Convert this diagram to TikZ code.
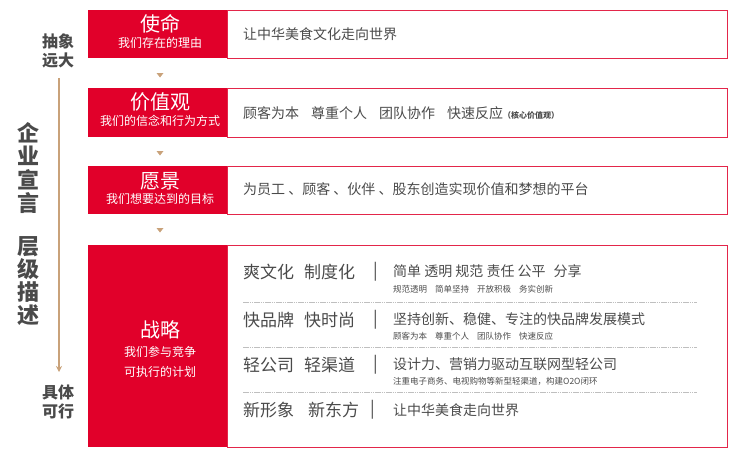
\documentclass[tikz,border=0pt]{standalone}
\usepackage{fontspec}
\setmainfont{Noto Sans CJK SC}
\usetikzlibrary{arrows.meta}
\definecolor{brandred}{HTML}{E1002A}
\definecolor{framered}{HTML}{E3264A}
\definecolor{linetan}{HTML}{C9A27A}
\definecolor{textgray}{HTML}{4A4A4A}
\begin{document}
\begin{tikzpicture}[x=1pt,y=-1pt,
    redbox/.style={fill=brandred,draw=none,inner sep=0pt,anchor=north west},
    framebox/.style={draw=framered,line width=1.2pt,inner sep=0pt,anchor=north west},
    titletext/.style={text=white,font=\fontsize{20}{24}\selectfont,inner sep=0pt},
    subtext/.style={text=white,font=\fontsize{12}{14}\selectfont,inner sep=0pt},
    bodytext/.style={text=textgray,font=\fontsize{14}{16}\selectfont,anchor=west,inner sep=0pt},
    keytext/.style={text=textgray,font=\fontsize{17}{19}\selectfont,anchor=west,inner sep=0pt},
    smalltext/.style={text=textgray,font=\fontsize{8.5}{10}\selectfont,anchor=west,inner sep=0pt},
    sidetext/.style={text=textgray,font=\bfseries\fontsize{16}{19}\selectfont,align=center,inner sep=0pt},
    bigside/.style={text=textgray,font=\bfseries\fontsize{22}{23.3}\selectfont,align=center,inner sep=0pt},
    sepline/.style={draw=gray!50,line width=0.6pt,dash pattern=on 1.5pt off 0.7pt}]
  \useasboundingbox (0,0) rectangle (750,466);
  % 左の縦の矢印
  \coordinate (axtop) at (59,78);
  \coordinate (axbot) at (59,372);
  \draw[linetan,line width=2pt,-{Stealth[length=6pt,width=6pt]}] (axtop) -- (axbot);
  % 左のラベル
  \node[sidetext] (abstract) at (58,51) {抽象\\远大};
  \node[sidetext] (concrete) at (58,402) {具体\\可行};
  \node[bigside] (manifesto) at (28,168) {企\\业\\宣\\言};
  \node[bigside] (levels) at (28,281) {层\\级\\描\\述};
  % 使命
  \node[framebox,minimum width=500pt,minimum height=48pt] (mission-frame) at (227,10) {};
  \node[redbox,minimum width=139pt,minimum height=48pt] (mission) at (88,10) {};
  \node[titletext] (mission-title) at (160,24) {使命};
  \node[subtext] (mission-sub) at (160,43) {我们存在的理由};
  \node[bodytext] (mission-text) at (243,34) {让中华美食文化走向世界};
  % 价值观
  \node[framebox,minimum width=500pt,minimum height=49pt] (values-frame) at (227,88) {};
  \node[redbox,minimum width=139pt,minimum height=49pt] (values) at (88,88) {};
  \node[titletext] (values-title) at (160,102) {价值观};
  \node[subtext] (values-sub) at (160,121) {我们的信念和行为方式};
  \node[bodytext] (values-text) at (243,113) {顾客为本\hspace{12pt}尊重个人\hspace{12pt}团队协作\hspace{12pt}快速反应{\bfseries\fontsize{8}{9}\selectfont（核心价值观）}};
  % 愿景
  \node[framebox,minimum width=500pt,minimum height=48pt] (vision-frame) at (227,166) {};
  \node[redbox,minimum width=139pt,minimum height=48pt] (vision) at (88,166) {};
  \node[titletext] (vision-title) at (160,181) {愿景};
  \node[subtext] (vision-sub) at (160,199) {我们想要达到的目标};
  \node[bodytext] (vision-text) at (243,189) {为员工 、顾客 、伙伴 、股东创造实现价值和梦想的平台};
  % 战略
  \node[framebox,minimum width=500pt,minimum height=202pt] (strategy-frame) at (227,245) {};
  \node[redbox,minimum width=139pt,minimum height=202pt] (strategy) at (88,245) {};
  \node[titletext] (strategy-title) at (160,330) {战略};
  \node[subtext] (strategy-sub) at (160,352) {我们参与竞争};
  \node[subtext] (strategy-sub2) at (160,372) {可执行的计划};
  % 下向きの小さい三角
  \foreach \y in {73,151,228}
    \fill[linetan] (156.5,\y) -- (163.5,\y) -- (160,\y+4.5) -- cycle;
  % 戦略の各行
  \node[keytext] (culture) at (243,272) {爽文化\hspace{10pt}制度化};
  \node[keytext] (culture-bar) at (373,272) {|};
  \node[bodytext] (culture-text) at (393,271) {简单 透明 规范 责任 公平\hspace{8pt}分享};
  \node[smalltext] (culture-small) at (393,289) {规范透明\hspace{8pt}简单坚持\hspace{8pt}开放积极\hspace{8pt}务实创新};
  \draw[sepline] (243,302) -- (697,302);
  \node[keytext] (brand) at (243,320) {快品牌\hspace{10pt}快时尚};
  \node[keytext] (brand-bar) at (373,320) {|};
  \node[bodytext] (brand-text) at (393,319) {坚持创新、稳健、专注的快品牌发展模式};
  \node[smalltext] (brand-small) at (393,336) {顾客为本\hspace{8pt}尊重个人\hspace{8pt}团队协作\hspace{8pt}快速反应};
  \draw[sepline] (243,347) -- (697,347);
  \node[keytext] (light) at (243,365) {轻公司\hspace{10pt}轻渠道};
  \node[keytext] (light-bar) at (373,365) {|};
  \node[bodytext] (light-text) at (393,364) {设计力、营销力驱动互联网型轻公司};
  \node[smalltext] (light-small) at (393,381) {注重电子商务、电视购物等新型轻渠道，构建O2O闭环};
  \draw[sepline] (243,392) -- (697,392);
  \node[keytext] (image) at (243,410) {新形象\hspace{14pt}新东方};
  \node[keytext] (image-bar) at (370,410) {|};
  \node[bodytext] (image-text) at (393,410) {让中华美食走向世界};
\end{tikzpicture}
\end{document}
